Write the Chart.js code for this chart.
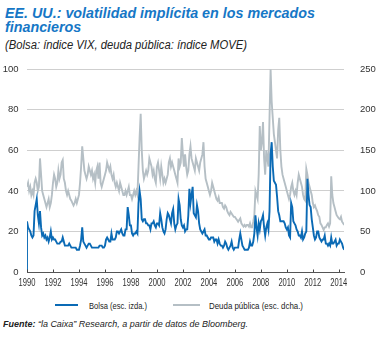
<!DOCTYPE html>
<html><head><meta charset="utf-8">
<script src="https://cdn.jsdelivr.net/npm/chart.js@4/dist/chart.umd.min.js"></script>
<style>
html,body{margin:0;padding:0;background:#fff;}
body{width:385px;height:338px;position:relative;overflow:hidden;font-family:"Liberation Sans",Arial,sans-serif;color:#222;}
.fit{position:absolute;white-space:nowrap;transform-origin:0 0;}
#t{left:5px;top:5.6px;color:#1677c6;font-weight:bold;font-style:italic;font-size:14px;line-height:14px;}
#s{left:5px;top:39px;font-style:italic;font-size:12px;line-height:12px;color:#222;}
#c{position:absolute;left:0;top:55px;}
.lg{top:300.5px;font-size:9.5px;line-height:9.5px;color:#222;}
.sw{position:absolute;top:304px;height:2px;}
#f{left:3px;top:318.5px;font-style:italic;font-size:9.5px;line-height:9.5px;color:#222;}
</style></head><body>
<div id="t" class="fit" data-w="310">EE. UU.: volatilidad implícita en los mercados<br>financieros</div>
<div id="s" class="fit" data-w="242">(Bolsa: índice VIX, deuda pública: índice MOVE)</div>
<div id="c"><canvas id="cv" width="385" height="235" style="width:385px;height:235px"></canvas></div>
<div class="sw" style="left:55px;width:23px;background:#0a6ab5"></div>
<div class="lg fit" id="l1" data-w="58" style="left:89px">Bolsa (esc. izda.)</div>
<div class="sw" style="left:173px;width:27px;background:#b5bfc5"></div>
<div class="lg fit" id="l2" data-w="94" style="left:209px">Deuda pública (esc. dcha.)</div>
<div id="f" class="fit" data-w="245"><b>Fuente:</b> “la Caixa” Research, a partir de datos de Bloomberg.</div>
<script>
const startYear = 1990;
const seriesNames = ["Bolsa (esc. izda.)", "Deuda pública (esc. dcha.)"];
// VIX, monthly from Jan 1990 (first point is the 0 start artefact)
const vixValues = [0,
25,22,21,20,18,17,18,30,33,36,28,24,
30,22,18,19,17,18,16,17,15,17,20,16,
17,16,16,15,14,14,14,15,15,17,15,13,
13,13,13,14,13,12,12,12,12,12,11,11,
11,13,16,22,15,14,13,12,13,14,14,13,
12,12,12,12,12,12,12,13,13,13,12,12,
13,16,17,16,15,15,19,16,16,16,17,20,
20,19,20,21,19,18,18,21,21,32,28,23,
23,19,18,19,19,20,19,34,40,36,26,25,
26,26,24,24,23,23,21,24,24,25,23,22,
24,24,23,29,26,22,20,19,21,26,29,28,
26,24,29,31,24,21,23,24,36,33,26,23,
22,23,20,21,21,28,41,34,38,42,29,28,
27,33,30,24,21,20,19,20,21,18,18,17,
16,16,17,17,17,15,16,16,14,16,14,13,
13,12,13,15,14,12,11,12,13,15,12,11,
12,12,12,12,16,19,16,13,12,11,11,11,
11,12,15,13,13,15,19,28,22,18,24,21,
25,26,28,22,18,22,24,21,30,58,64,52,
45,44,43,37,30,28,25,25,25,25,24,22,
21,22,18,17,34,32,25,24,23,21,20,18,
18,17,20,16,17,19,20,46,38,33,32,26,
22,18,16,17,20,20,17,16,15,16,16,18,
14,14,13,14,13,17,14,14,15,16,13,14,
14,16,15,14,12,11];
// MOVE, monthly from Jan 1990
const moveValues = [
105,110,100,105,95,100,95,110,115,110,100,105,
140,120,100,95,90,85,80,85,90,80,85,95,
110,120,115,105,110,125,115,120,135,138,115,110,
100,95,100,95,90,88,85,82,85,90,85,90,
95,110,130,155,140,125,120,115,120,130,125,120,
125,115,120,110,125,130,115,135,110,105,110,115,
120,125,135,130,125,130,120,115,120,110,105,110,
105,100,110,105,100,95,95,100,95,100,105,95,
95,90,95,100,95,100,95,130,165,195,150,125,
115,120,125,120,125,140,135,130,120,125,115,110,
130,135,125,115,130,120,110,115,110,115,120,135,
140,130,135,130,125,120,115,110,140,130,135,165,
145,130,145,130,120,125,145,155,140,135,130,125,
140,135,130,125,135,140,145,160,130,115,110,105,
100,95,100,110,105,100,95,90,88,92,85,85,
85,80,78,82,80,75,72,70,74,72,70,68,
68,66,64,62,64,66,60,58,56,58,56,58,
58,56,60,55,55,62,70,100,95,90,120,180,
150,160,185,140,120,150,140,130,190,250,210,190,
170,160,150,140,175,190,150,130,120,115,110,105,
100,95,90,95,105,110,100,95,100,95,110,120,
115,110,105,95,90,88,127,120,110,105,100,95,
85,80,82,78,75,70,68,60,58,55,52,55,
55,58,60,56,60,118,95,85,80,75,70,68,
66,65,68,62,60,58];
const xTicks = [1990,1992,1994,1996,1998,2000,2002,2004,2006,2008,2010,2012,2014];
const leftTicks = [0,20,40,60,80,100];
const rightTicks = [0,50,100,150,200,250];

// fit text widths
document.querySelectorAll('.fit').forEach(el=>{
  const w = el.getBoundingClientRect().width;
  el.style.transform = 'scaleX(' + (parseFloat(el.dataset.w)/w) + ')';
});

const vixPts = vixValues.map((v,i)=>({x: i===0 ? startYear : startYear + (i-1)/12, y: v}));
const movePts = moveValues.map((v,i)=>({x: startYear + i/12, y: v}));
const FAM = '"Liberation Sans",Arial,sans-serif';
const fnt = {family:FAM, size:9.5};

const axisDecor = {
  id:'axisDecor',
  afterDraw(chart){
    const sx = chart.scales.x, ctx = chart.ctx, b = chart.chartArea.bottom;
    ctx.save();
    ctx.strokeStyle='#444'; ctx.lineWidth=1;
    xTicks.forEach(t=>{const px=Math.round(sx.getPixelForValue(t))+0.5; ctx.beginPath(); ctx.moveTo(px,b); ctx.lineTo(px,b-2.5); ctx.stroke();});
    ctx.fillStyle='#333'; ctx.font='10px '+FAM; ctx.textAlign='center'; ctx.textBaseline='middle';
    xTicks.forEach(t=>{
      const px=sx.getPixelForValue(t);
      ctx.save(); ctx.translate(px, b+11.5); ctx.scale(0.76,1); ctx.fillText(String(t),0,0); ctx.restore();
    });
    ctx.restore();
  }
};

const chart = new Chart(document.getElementById('cv'), {
  type:'line',
  data:{datasets:[
    {label:seriesNames[0], data:vixPts, yAxisID:'y', borderColor:'#0a6ab5', borderWidth:1.9, pointRadius:0, tension:0},
    {label:seriesNames[1], data:movePts, yAxisID:'y2', borderColor:'#b5bfc5', borderWidth:1.9, pointRadius:0, tension:0}
  ]},
  options:{
    responsive:false, animation:false, devicePixelRatio:1,
    layout:{padding:{top:7,left:0,right:0,bottom:0}},
    plugins:{legend:{display:false}, tooltip:{enabled:false}},
    scales:{
      x:{type:'linear', min:1990, max:2014.4,
         afterBuildTicks(s){s.ticks = xTicks.map(v=>({value:v}));},
         afterFit(s){s.height=18;},
         grid:{display:true, drawOnChartArea:false, drawTicks:false},
         border:{display:true, color:'#555', width:1},
         ticks:{display:false}},
      y:{position:'left', min:0, max:100,
         afterBuildTicks(s){s.ticks=leftTicks.map(v=>({value:v}));},
         afterFit(s){s.width=27;},
         grid:{color:c=>c.tick.value===0?'rgba(0,0,0,0)':'#cfcfcf', drawTicks:false, lineWidth:1},
         border:{display:false},
         ticks:{color:'#333', font:fnt, padding:8.5}},
      y2:{position:'right', min:0, max:250,
         afterBuildTicks(s){s.ticks=rightTicks.map(v=>({value:v}));},
         afterFit(s){s.width=41;},
         grid:{display:false},
         border:{display:false},
         ticks:{color:'#333', font:fnt, padding:8}}
    }
  },
  plugins:[axisDecor]
});
// place the plot area exactly: top at y=65 of the page (10px into the canvas)
const dTop = 10 - chart.chartArea.top;
if (Math.abs(dTop) > 0.2) { chart.options.layout.padding.top += dTop; chart.update(); }
</script>
</body></html>
